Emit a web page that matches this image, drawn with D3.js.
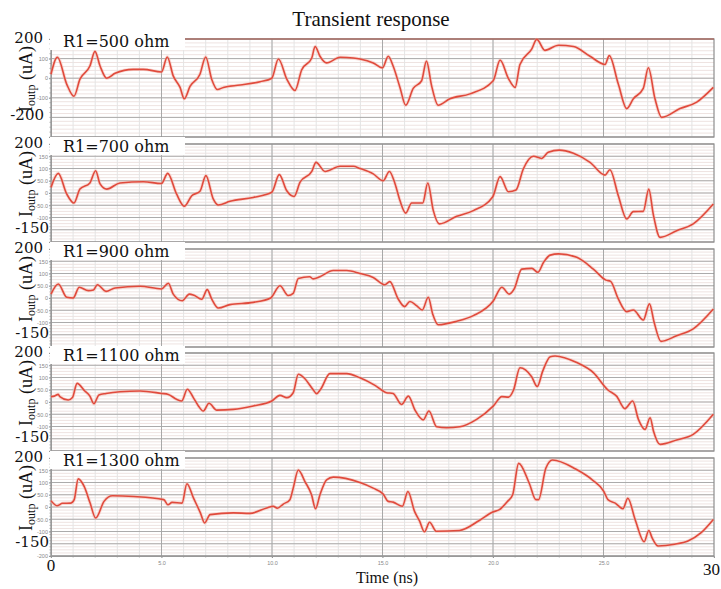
<!DOCTYPE html>
<html><head><meta charset="utf-8">
<script src="https://cdn.jsdelivr.net/npm/d3@7"></script>
<style>body{margin:0;background:#fff}svg{display:block}</style>
</head><body><svg id="c" width="721" height="589"></svg>
<script>
// ---------- data ----------
const panelLabels = ["R1=500 ohm","R1=700 ohm","R1=900 ohm","R1=1100 ohm","R1=1300 ohm"];
const t500 = [0,0.29,0.71,1.04,1.31,1.76,1.99,2.22,2.52,2.9,3.72,4.18,5.0,5.26,5.53,5.84,6.03,6.29,6.74,7.0,7.27,7.53,7.8,8.56,9.46,9.99,10.29,10.67,11.04,11.34,11.8,11.95,12.17,12.47,13.08,13.68,13.98,14.58,15.0,15.26,15.48,15.79,16.05,16.39,16.77,16.99,17.22,17.52,18.05,18.96,20.01,20.32,20.7,21.0,21.22,21.75,21.98,22.35,22.96,23.64,24.39,25.07,25.26,25.67,26.05,26.35,26.8,27.03,27.33,27.63,28.46,29.22,29.97];
const i500 = [20,107,-30,-92,-5,62,137,62,0,25,45,45,32,108,12,-47,-105,-42,20,108,-5,-58,-47,-35,-18,0,98,-5,-63,42,103,162,112,78,107,103,98,78,53,112,62,-47,-138,-52,-13,87,-38,-138,-105,-80,-13,92,-2,-47,70,148,198,142,168,162,112,70,115,-30,-155,-105,-52,53,-105,-200,-155,-122,-47];
const t700 = [0,0.33,0.71,1.04,1.31,1.76,2.02,2.22,2.52,3.12,4.18,5.0,5.28,5.68,6.03,6.37,6.74,7.01,7.34,7.57,8.1,9.15,9.99,10.33,10.66,11.0,11.27,11.8,11.99,12.4,13.08,13.68,13.98,14.58,15.03,15.31,15.57,15.79,16.05,16.32,16.82,17.05,17.3,17.57,18.36,19.11,19.99,20.32,20.7,21.04,21.37,21.83,22.2,22.5,23.0,23.64,24.39,25.07,25.29,25.67,26.05,26.35,26.8,27.05,27.25,27.56,28.31,29.06,29.97];
const i700 = [23,80,-4,-41,16,41,91,37,16,41,46,39,80,-4,-54,-11,7,71,-24,-49,-34,-18,3,75,10,-14,44,88,125,88,109,109,100,78,50,88,37,-31,-82,-41,-41,41,-72,-126,-95,-72,-15,67,5,12,98,150,141,166,175,162,125,73,95,-11,-106,-76,-75,16,-86,-181,-154,-126,-45];
const t900 = [0,0.33,0.71,1.0,1.28,1.69,1.92,2.1,2.49,2.9,4.03,5.0,5.31,5.53,5.94,6.26,6.47,6.82,7.07,7.27,7.57,8.1,9.15,9.94,10.36,10.73,10.96,11.19,11.7,11.86,12.17,12.77,13.38,13.98,14.58,15.11,15.33,15.71,16.0,16.24,16.54,16.8,17.07,17.27,17.52,18.36,19.11,20.02,20.4,20.73,20.96,21.3,21.76,22.03,22.29,22.59,22.96,23.79,24.54,25.11,25.32,25.67,26.05,26.35,26.8,27.08,27.29,27.6,28.31,29.06,29.97];
const i900 = [16,57,3,0,44,30,33,54,27,41,48,37,60,16,-11,16,11,-5,34,-4,-41,-27,-18,0,50,10,19,80,87,78,87,112,112,100,84,54,67,-4,-35,-14,-31,-49,3,-65,-109,-95,-72,-11,44,16,37,118,121,105,146,175,180,166,118,73,68,-4,-56,-49,-90,-24,-99,-177,-154,-126,-45];
const t1100 = [0,0.15,0.33,0.4,0.78,0.97,1.18,1.53,1.76,1.94,2.17,2.49,3.12,4.03,5.0,5.31,5.68,5.91,6.17,6.44,6.67,6.89,7.15,7.5,8.25,9.15,9.99,10.36,10.67,10.96,11.19,11.49,11.83,12.02,12.2,12.62,13.38,13.98,14.66,15.18,15.48,15.86,16.17,16.47,16.84,17.1,17.45,17.9,18.5,19.26,20.02,20.4,20.7,20.93,21.22,21.75,22.0,22.25,22.59,22.81,23.79,24.54,25.2,25.59,25.97,26.32,26.58,26.88,27.11,27.26,27.56,28.31,29.06,29.97];
const i1100 = [22,24,31,22,8,18,76,45,24,-7,29,35,42,45,35,31,11,4,52,18,-16,-37,-5,-33,-30,-16,4,27,18,38,113,95,54,34,52,116,116,99,68,38,35,-10,24,-33,-73,-37,-101,-105,-101,-71,-16,22,20,49,140,103,63,126,185,188,161,120,49,24,-27,4,-71,-112,-64,-118,-173,-155,-132,-50];
const t1300 = [0,0.27,0.52,0.9,1.05,1.23,1.5,1.77,2.02,2.4,2.78,3.75,5.1,5.29,5.48,5.93,6.15,6.45,6.76,6.95,7.2,8.25,9.0,9.76,10.06,10.24,10.51,10.81,10.96,11.19,11.49,11.79,11.97,12.17,12.47,12.77,13.98,14.58,15.03,15.26,15.48,15.9,16.15,16.45,16.68,16.9,17.13,17.43,18.48,19.38,19.99,20.29,20.66,20.89,21.16,21.64,21.94,22.06,22.39,22.69,23.74,24.49,25.02,25.2,25.53,25.88,26.1,26.43,26.84,27.05,27.2,27.47,28.22,28.82,29.42,29.97];
const i1300 = [26,5,15,16,30,115,84,16,-45,23,46,43,30,9,19,16,95,36,-24,-65,-31,-24,-26,-4,3,-5,12,30,77,151,104,50,-7,50,111,122,100,77,53,23,20,3,63,-18,-58,-101,-62,-99,-96,-55,-20,-11,23,50,178,97,30,30,158,192,155,111,63,30,16,-7,36,-51,-142,-96,-126,-159,-152,-139,-105,-51];
const seriesT = [t500,t700,t900,t1100,t1300];
const seriesI = [i500,i700,i900,i1100,i1300];
const yDomains = [[-300,200],[-200,200],[-200,200],[-200,200],[-200,200]];
const smallTicksP1 = [100,0,-100];
const smallTicksMid = [150,100,50,0,-50,-100];
const smallTicksLast = [150,100,50,0,-50,-100,-200];
const smallTickLabel = {150:"150",100:"100",50:"50.0",0:"0","-50":"-50.0","-100":"-100","-200":"-200","-300":"-300"};
const bigTicksP1 = ["200","-200"];
const bigTicks = ["200","-150"];
const xTickVals = [5,10,15,20,25];
const xTickLabels = ["5.0","10.0","15.0","20.0","25.0"];

// ---------- layout ----------
const svg = d3.select("#c");
const x = d3.scaleLinear().domain([0,30]).range([51,714]);
const panelTops = [39,144,249,353,458];
const panelH = 98;
const redLine = "#e04a3c";

svg.append("text").attr("x",371).attr("y",26).attr("text-anchor","middle")
  .attr("font-family","Liberation Serif, serif").attr("font-size",21).attr("fill","#111")
  .text("Transient response");

panelTops.forEach((top,k)=>{
  const dom = yDomains[k];
  const y = d3.scaleLinear().domain(dom).range([top+panelH, top]);
  const g = svg.append("g");
  const majorStep = k===0 ? 100 : 50;
  const minorStep = k===0 ? 20 : 12.5;
  g.selectAll(".hm").data(d3.range(dom[0], dom[1]+0.01, minorStep)).enter().append("line")
    .attr("x1",x(0)).attr("x2",x(30)).attr("y1",d=>y(d)).attr("y2",d=>y(d))
    .attr("stroke","#eee3e1").attr("stroke-width",1);
  g.selectAll(".vm").data(d3.range(1,30)).enter().append("line")
    .attr("x1",d=>x(d)).attr("x2",d=>x(d)).attr("y1",top).attr("y2",top+panelH)
    .attr("stroke","#e4e4e4").attr("stroke-width",1);
  g.selectAll(".hM").data(d3.range(dom[0], dom[1]+0.01, majorStep)).enter().append("line")
    .attr("x1",x(0)).attr("x2",x(30)).attr("y1",d=>y(d)).attr("y2",d=>y(d))
    .attr("stroke","#ababab").attr("stroke-width",1);
  g.selectAll(".vM").data([5,10,15,20,25]).enter().append("line")
    .attr("x1",d=>x(d)).attr("x2",d=>x(d)).attr("y1",top).attr("y2",top+panelH)
    .attr("stroke","#a8a8a8").attr("stroke-width",1);
  g.append("rect").attr("x",x(0)).attr("y",top).attr("width",x(30)-x(0)).attr("height",panelH)
    .attr("fill","none").attr("stroke","#8e8e8e").attr("stroke-width",1.2);
  if(k===0){
    g.append("line").attr("x1",x(0)).attr("x2",x(30)).attr("y1",top).attr("y2",top)
      .attr("stroke","#b0584c").attr("stroke-width",1.2);
  }
  const tv = k===0 ? smallTicksP1 : (k===4 ? smallTicksLast : smallTicksMid);
  const ax = d3.axisLeft(y).tickValues(tv).tickSize(2).tickPadding(1)
    .tickFormat(d=>smallTickLabel[d]);
  const axg = g.append("g").attr("transform",`translate(${x(0)},0)`).call(ax);
  axg.select(".domain").attr("stroke","#999");
  axg.selectAll("text").attr("font-size",5.5).attr("fill","#888").attr("font-family","Liberation Sans, sans-serif");
  axg.selectAll("line").attr("stroke","#999");
  g.selectAll(".mt").data(d3.range(dom[0], dom[1]+0.01, majorStep/4)).enter().append("line")
    .attr("x1",x(0)-1.5).attr("x2",x(0)).attr("y1",d=>y(d)).attr("y2",d=>y(d))
    .attr("stroke","#999").attr("stroke-width",0.8);

  const pts = seriesT[k].map((t,i)=>[t, seriesI[k][i]]);
  const line = d3.line().x(d=>x(d[0])).y(d=>y(d[1])).curve(d3.curveMonotoneX);
  g.append("path").attr("d",line(pts)).attr("fill","none")
    .attr("stroke","#f3b3a8").attr("stroke-width",3.4).attr("opacity",0.45);
  g.append("path").attr("d",line(pts)).attr("fill","none")
    .attr("stroke",redLine).attr("stroke-width",1.6).attr("stroke-linejoin","round");

  g.append("rect").attr("x",50).attr("y",top-7).attr("width",135).attr("height",18).attr("fill","#fff");
  g.append("text").attr("x",63).attr("y",top+8).attr("font-family","DejaVu Serif, serif")
    .attr("font-size",16).attr("fill","#111").text(panelLabels[k]);

  const big = k===0 ? bigTicksP1 : bigTicks;
  const bigVals = k===0 ? [200,-200] : [200,-150];
  bigVals.forEach((v,j)=>{
    g.append("text").attr("x", j===0?43:(k===0?44:49)).attr("y", j===0? top+4 : y(v)+3)
      .attr("text-anchor","end").attr("font-family","DejaVu Serif, serif").attr("font-size",15)
      .attr("fill","#111").text(big[j]);
  });

  const yt = g.append("text").attr("transform",`translate(32,${top+panelH/2-9}) rotate(-90)`)
    .attr("text-anchor","middle").attr("font-family","Liberation Serif, serif").attr("font-size",18).attr("fill","#111");
  yt.append("tspan").text("I");
  yt.append("tspan").attr("font-size",12).attr("dy",3).text("outp");
  yt.append("tspan").attr("dy",-3).text(" (uA)");
});

const lastBottom = panelTops[4]+panelH;
const xa = d3.axisBottom(x).tickValues(xTickVals).tickSize(2).tickFormat((d,i)=>xTickLabels[i]);
const xg = svg.append("g").attr("transform",`translate(0,${lastBottom})`).call(xa);
xg.select(".domain").attr("stroke","#999");
xg.selectAll("line").attr("stroke","#999");
xg.selectAll("text").attr("font-size",5.5).attr("fill","#888").attr("font-family","Liberation Sans, sans-serif");
svg.selectAll(".xmt").data(d3.range(0,30.01,1)).enter().append("line")
  .attr("x1",d=>x(d)).attr("x2",d=>x(d)).attr("y1",lastBottom).attr("y2",lastBottom+1.5)
  .attr("stroke","#999").attr("stroke-width",0.8);
svg.append("text").attr("x",x(0)).attr("y",571).attr("text-anchor","middle")
  .attr("font-family","Liberation Serif, serif").attr("font-size",17).attr("fill","#111").text("0");
svg.append("text").attr("x",703).attr("y",575)
  .attr("font-family","Liberation Serif, serif").attr("font-size",17).attr("fill","#111").text("30");
svg.append("text").attr("x",387).attr("y",583).attr("text-anchor","middle")
  .attr("font-family","Liberation Serif, serif").attr("font-size",16).attr("fill","#111").text("Time (ns)");
</script></body></html>
